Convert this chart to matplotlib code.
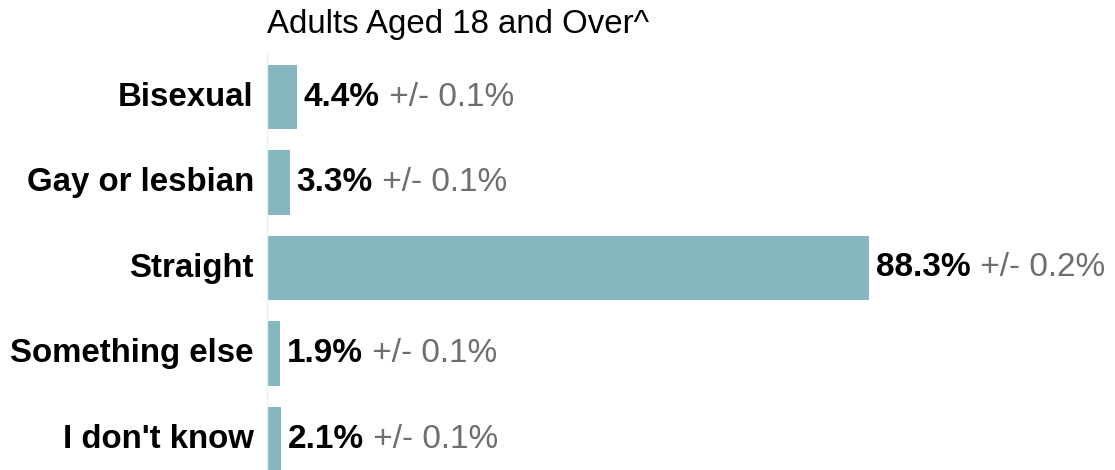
import numpy as np
import matplotlib.pyplot as plt

plt.rcParams['font.family'] = ['Liberation Sans', 'DejaVu Sans']

categories = ['Bisexual', 'Gay or lesbian', 'Straight', 'Something else', "I don't know"]
values = [4.4, 3.3, 88.3, 1.9, 2.1]
errors = [0.1, 0.1, 0.2, 0.1, 0.1]
title = 'Adults Aged 18 and Over^'

W, H = 1115, 470
fig = plt.figure(figsize=(W / 100, H / 100), dpi=100)

# axes placed in pixel terms
pitch = 85.5
first_center = 97
left, right = 267, 1115
top, bottom = first_center - pitch / 2, 470
ax = fig.add_axes([left / W, 1 - bottom / H, (right - left) / W, (bottom - top) / H])

y = np.arange(len(categories))
ax.barh(y, values, height=0.755, color='#86b6bf')
ax.set_xlim(0, (right - left) / 6.82)
ax.set_ylim(4 + (470 - (first_center + 4 * pitch)) / pitch, -0.5)

ax.set_yticks(y)
ax.set_yticklabels(categories, fontsize=23.8, fontweight='bold', va='center')
ax.tick_params(axis='y', length=0, pad=9.5)
ax.set_xticks([])
for s in ['top', 'right', 'bottom']:
    ax.spines[s].set_visible(False)
ax.spines['left'].set_color('#eeeeee')
ax.spines['left'].set_linewidth(1)

for yi, v, e in zip(y, values, errors):
    t1 = ax.annotate(f'{v:.1f}%', xy=(v, yi), xytext=(5, 0), textcoords='offset points',
                     ha='left', va='center', fontsize=24, fontweight='bold', color='black')
    ax.annotate(f' +/- {e:.1f}%', xy=(1, 0), xycoords=t1, ha='left', va='bottom',
                fontsize=24, color='#6e6e6e')

fig.text(left / W, 1 - 24 / H, title, ha='left', va='center', fontsize=23.8, color='black')

fig.savefig('out.png', dpi=100)
